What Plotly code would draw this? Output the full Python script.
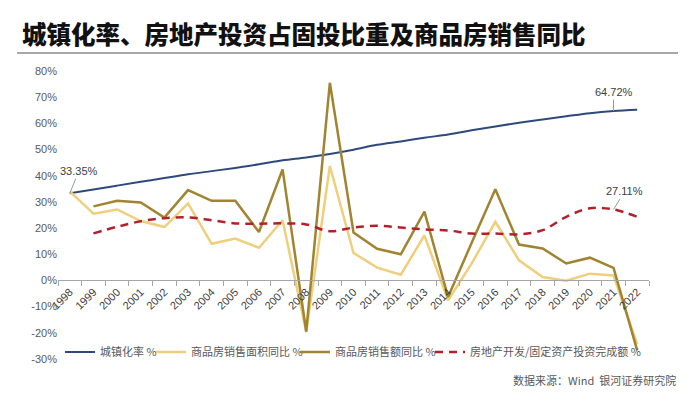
import plotly.graph_objects as go

years = list(range(1998, 2023))
urban = [33.35, 34.78, 36.22, 37.66, 39.09, 40.53, 41.76, 42.99, 44.34, 45.89, 46.99, 48.34,
         49.95, 51.83, 53.10, 54.49, 55.75, 57.33, 58.84, 60.24, 61.50, 62.71, 63.89, 64.72, 65.22]
area_yoy = [34.0, 25.5, 27.1, 22.7, 20.4, 29.4, 14.0, 16.0, 12.5, 23.0, -19.7, 43.7, 10.5,
            4.9, 2.2, 17.2, -7.6, 6.5, 22.4, 7.7, 1.3, -0.1, 2.6, 1.9, -24.3]
amount_yoy = [None, 28.3, 30.4, 29.8, 24.0, 34.5, 30.4, 30.4, 18.5, 42.4, -19.5, 75.5, 18.3,
              12.1, 10.0, 26.3, -6.3, 14.4, 34.8, 13.7, 12.2, 6.5, 8.7, 4.8, -26.7]
re_share = [None, 18.0, 20.5, 22.6, 23.8, 24.1, 23.0, 21.8, 21.7, 21.8, 21.4, 18.8, 20.2,
            20.9, 20.2, 19.5, 19.1, 17.9, 17.9, 17.6, 19.2, 24.3, 27.6, 27.11, 24.3]

names = ["城镇化率 %", "商品房销售面积同比 %", "商品房销售额同比 %", "房地产开发/固定资产投资完成额 %"]
yticks = [-30, -20, -10, 0, 10, 20, 30, 40, 50, 60, 70, 80]

C_BLUE = "#2E4A7D"
C_LIGHT = "#F0CF7C"
C_DARK = "#A0842F"
C_RED = "#B3202C"
C_RULE = "#8A8A8A"

# layout geometry (pixels): paper spans x 17..678, y 50..359; plot area x 58..649, y 71..359
W, H = 700, 407
PL, PR, PT, PB = 17, 678, 50, 359
AL, AR, AT = 58, 649, 71
paper_w, paper_h = PR - PL, PB - PT
y_dom_top = (PB - AT) / paper_h
rule_y = (PB - 53) / paper_h

fig = go.Figure()
fig.add_trace(go.Scatter(x=years, y=urban, name=names[0], mode="lines", legend="legend",
                         line=dict(color=C_BLUE, width=2, shape="spline")))
fig.add_trace(go.Scatter(x=years, y=area_yoy, name=names[1], mode="lines", legend="legend2",
                         line=dict(color=C_LIGHT, width=2.5)))
fig.add_trace(go.Scatter(x=years, y=amount_yoy, name=names[2], mode="lines", legend="legend3",
                         line=dict(color=C_DARK, width=2.5)))
fig.add_trace(go.Scatter(x=years, y=re_share, name=names[3], mode="lines", legend="legend4",
                         line=dict(color=C_RED, width=2.5, dash="8px,6px", shape="spline")))

# title underline as a decorative line on an invisible full-width overlay axis pair
fig.add_trace(go.Scatter(x=[0, 1], y=[rule_y, rule_y], mode="lines", xaxis="x2", yaxis="y2",
                         showlegend=False, hoverinfo="skip", line=dict(color=C_RULE, width=1.5)))

ann_font = dict(family="Liberation Sans, Arial", size=11, color="#404040")
fig.add_annotation(x=years[0], y=urban[0], text="33.35%", showarrow=True, arrowhead=0,
                   arrowcolor="#999999", arrowwidth=1, ax=9, ay=-22, font=ann_font)
fig.add_annotation(x=years[23], y=urban[23], text="64.72%", showarrow=True, arrowhead=0,
                   arrowcolor="#999999", arrowwidth=1, ax=0, ay=-19, font=ann_font)
fig.add_annotation(x=years[23], y=re_share[23], text="27.11%", showarrow=True, arrowhead=0,
                   arrowcolor="#999999", arrowwidth=1, ax=11, ay=-18, font=ann_font)

# source note
fig.add_annotation(xref="paper", yref="paper", x=1.0, y=(PB - 380) / paper_h, xanchor="right", yanchor="middle",
                   text="数据来源：Wind  银河证券研究院", showarrow=False,
                   font=dict(family="Noto Sans CJK SC", size=11, color="#595959"))

boundaries = [y - 0.5 for y in years] + [years[-1] + 0.5]

leg_common = dict(orientation="h", xref="container", yref="container", xanchor="left", yanchor="middle",
                  font=dict(family="Noto Sans CJK SC", size=11, color="#595959"),
                  itemwidth=30, bgcolor="rgba(0,0,0,0)", borderwidth=0)
leg_y = 1 - 352 / H

fig.update_layout(
    width=W, height=H,
    margin=dict(l=PL, r=W - PR, t=PT, b=H - PB, autoexpand=False),
    paper_bgcolor="white", plot_bgcolor="rgba(0,0,0,0)",
    title=dict(text="城镇化率、房地产投资占固投比重及商品房销售同比", xref="container", yref="container",
               x=22 / W, xanchor="left", y=1 - 35 / H, yanchor="middle",
               font=dict(family="Noto Sans CJK SC", size=24.5, color="#111111", weight=900)),
    showlegend=True,
    legend=dict(x=60 / W, y=leg_y, **leg_common),
    legend2=dict(x=151 / W, y=leg_y, **leg_common),
    legend3=dict(x=295 / W, y=leg_y, **leg_common),
    legend4=dict(x=430 / W, y=leg_y, **leg_common),
    xaxis=dict(type="linear", range=[years[0] - 0.5, years[-1] + 0.5], anchor="free",
               domain=[(AL - PL) / paper_w, (AR - PL) / paper_w],
               position=(30 / 110) * y_dom_top,
               tickvals=years, ticktext=[str(y) for y in years], ticks="",
               minor=dict(tickvals=boundaries, ticks="outside", ticklen=5, tickcolor="#A6A6A6", showgrid=False),
               showline=True, linecolor="#A6A6A6", linewidth=1, tickangle=-45, showgrid=False, zeroline=False,
               automargin=False,
               tickfont=dict(family="Liberation Sans, Arial", size=11, color="#404040")),
    yaxis=dict(range=[-30, 80], domain=[0, y_dom_top], anchor="x",
               tickvals=yticks, ticktext=[f"{v}%" for v in yticks],
               showgrid=False, zeroline=False, showline=False, ticks="", automargin=False,
               tickfont=dict(family="Liberation Sans, Arial", size=11, color="#595959")),
    xaxis2=dict(domain=[0, 1], range=[0, 1], anchor="y2", visible=False, fixedrange=True),
    yaxis2=dict(domain=[0, 1], range=[0, 1], anchor="x2", visible=False, fixedrange=True),
)

fig.write_html("out.html")
